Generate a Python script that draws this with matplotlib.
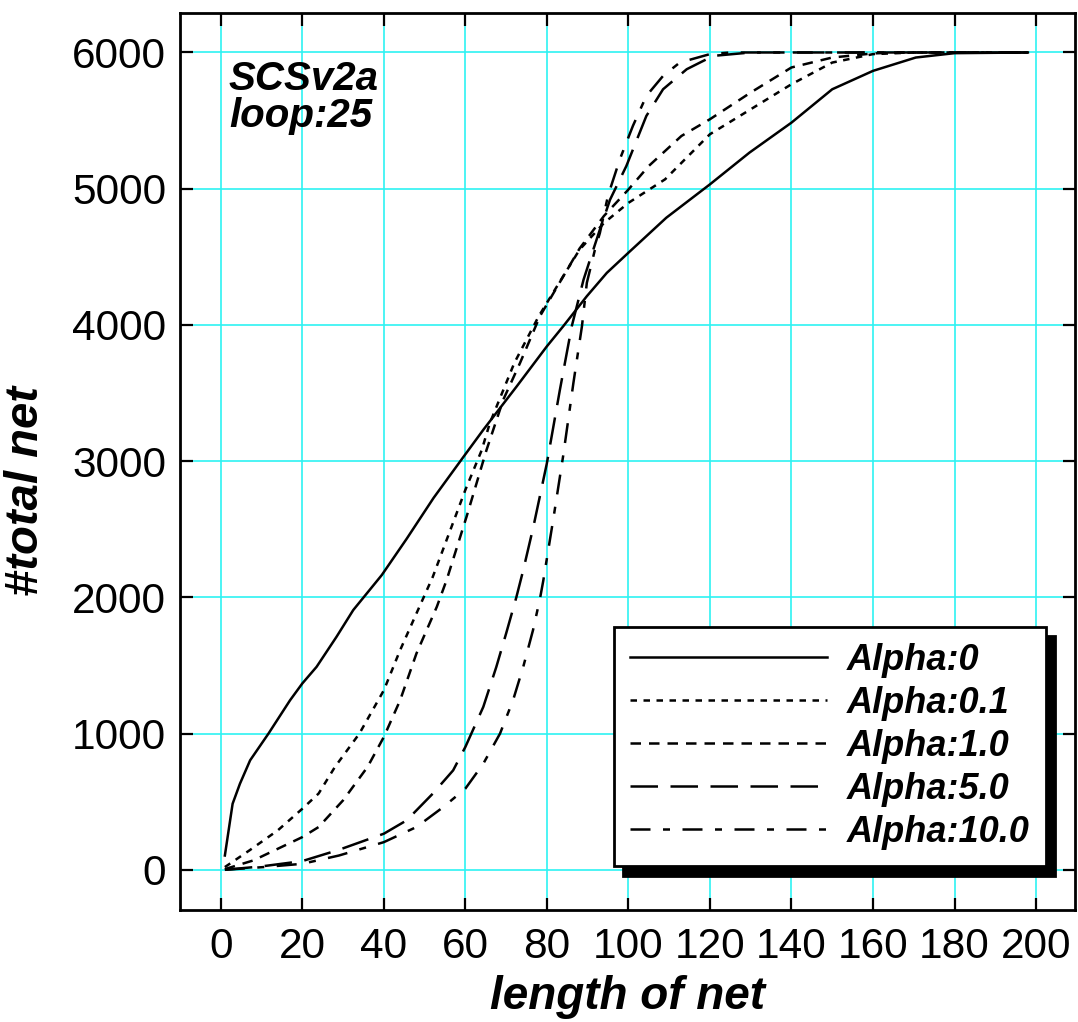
import matplotlib
matplotlib.use("Agg")
import matplotlib.pyplot as plt

plt.rcParams["font.family"] = ["Liberation Sans", "DejaVu Sans"]

# curves (length of net -> #total net)
x_a0 = [1, 2.9, 4.7, 7.2, 11.7, 17, 20, 23.5, 28.4, 32.5, 39.5, 45.6, 52.2, 59.5, 64.4, 72.6,
        80, 84, 89.8, 94.7, 100, 109.3, 120, 129.7, 140, 150, 160, 170.5, 180, 198]
y_a0 = [105, 485, 632, 804, 1000, 1245, 1368, 1490, 1711, 1907, 2164, 2430, 2730, 3030, 3230, 3549,
        3843, 3990, 4211, 4382, 4530, 4787, 5032, 5265, 5485, 5730, 5865, 5963, 5995, 6000]

x_a01 = [1, 7, 14, 20, 24, 28, 34, 40, 44, 48, 52, 60, 64, 66, 72, 78, 83, 88, 94, 100, 109, 120,
         130, 140, 150, 160, 170, 198]
y_a01 = [20, 142, 290, 448, 560, 755, 1000, 1318, 1613, 1882, 2150, 2789, 3080, 3279, 3720, 4064,
         4309, 4552, 4748, 4896, 5069, 5400, 5583, 5767, 5926, 5988, 6000, 6000]

x_a1 = [1, 8, 20, 24, 30, 36, 40, 44, 48, 53, 55.4, 60.3, 65.2, 69.3, 73.4, 78.3, 88, 94, 100, 105,
        113, 120, 130, 140, 150, 160, 166, 198]
y_a1 = [5, 69, 240, 314, 510, 755, 975, 1245, 1588, 1931, 2127, 2593, 3083, 3451, 3720, 4064, 4560,
        4800, 4994, 5167, 5387, 5510, 5706, 5890, 5963, 5993, 6000, 6000]

x_a5 = [1, 10, 20, 29, 40, 45.6, 52, 57, 60, 64.4, 67.6, 70, 72.5, 74.2, 76.7, 80, 83.2, 86.1, 89,
        91.4, 93, 95.5, 99.5, 104.4, 108.5, 114.3, 120.8, 130, 198]
y_a5 = [0, 25, 64, 147, 265, 363, 559, 730, 902, 1196, 1490, 1735, 2000, 2200, 2520, 2985, 3525,
        3990, 4333, 4554, 4700, 4920, 5167, 5534, 5730, 5877, 5975, 6000, 6000]

x_a10 = [1, 10.5, 20, 29, 40, 48, 54.6, 60, 64.4, 68.5, 71.7, 74.2, 76.6, 78.3, 79.1, 81.6, 84,
         86.5, 88.6, 89.8, 91.8, 93, 95, 97.9, 101.1, 104.4, 108.5, 112.6, 120, 125, 198]
y_a10 = [0, 20, 44, 105, 203, 314, 461, 596, 779, 1000, 1245, 1490, 1760, 1990, 2120, 2580, 3040,
         3573, 3990, 4309, 4554, 4675, 4950, 5216, 5461, 5681, 5828, 5926, 5988, 6000, 6000]

labels = ["Alpha:0", "Alpha:0.1", "Alpha:1.0", "Alpha:5.0", "Alpha:10.0"]
x_ticks = list(range(0, 201, 20))
y_ticks = list(range(0, 6001, 1000))

fig = plt.figure(figsize=(10.78, 10.22), dpi=100)
ax = fig.add_axes([0.167, 0.1096, 0.830, 0.8777])

lw = 1.8
ax.plot(x_a0, y_a0, color="black", lw=lw, linestyle="-", label=labels[0])
ax.plot(x_a01, y_a01, color="black", lw=lw, linestyle=(0, (2.6, 2.6)), label=labels[1])
ax.plot(x_a1, y_a1, color="black", lw=lw, linestyle=(0, (4.2, 3.2)), label=labels[2])
ax.plot(x_a5, y_a5, color="black", lw=lw, linestyle=(0, (11, 5)), label=labels[3])
ax.plot(x_a10, y_a10, color="black", lw=lw, linestyle=(0, (8, 5, 2.8, 5)), label=labels[4])

ax.set_xlim(-10, 209.5)
ax.set_ylim(-295, 6290)
ax.set_xticks(x_ticks)
ax.set_yticks(y_ticks)
ax.grid(True, color="#2ef2f2", lw=1.2)
ax.set_axisbelow(True)

ax.tick_params(direction="in", top=True, right=True, length=9, width=1.6,
               labelsize=30.5, pad=10)
ax.tick_params(axis="x", pad=12)
for s in ax.spines.values():
    s.set_linewidth(2)

ax.set_xlabel("length of net", fontsize=33, fontweight="bold", style="italic", labelpad=6)
ax.set_ylabel("#total net", fontsize=34, fontweight="bold", style="italic")
ax.yaxis.set_label_coords(-0.147, 0.467)

ax.text(2, 5728, "SCSv2a", fontsize=29, fontweight="bold", style="italic", va="baseline")
ax.text(2, 5456, "loop:25", fontsize=29, fontweight="bold", style="italic", va="baseline")

leg = ax.legend(loc="lower right", bbox_to_anchor=(0.9676, 0.049), borderaxespad=0,
                prop={"size": 26, "weight": "bold", "style": "italic"},
                handlelength=5.45, handletextpad=0.55, labelspacing=0.22, borderpad=0.45,
                fancybox=False, framealpha=1, edgecolor="black",
                shadow={"ox": 7, "oy": -7, "color": "black", "alpha": 1})
leg.get_frame().set_linewidth(2)

fig.savefig("out.png", dpi=100)
